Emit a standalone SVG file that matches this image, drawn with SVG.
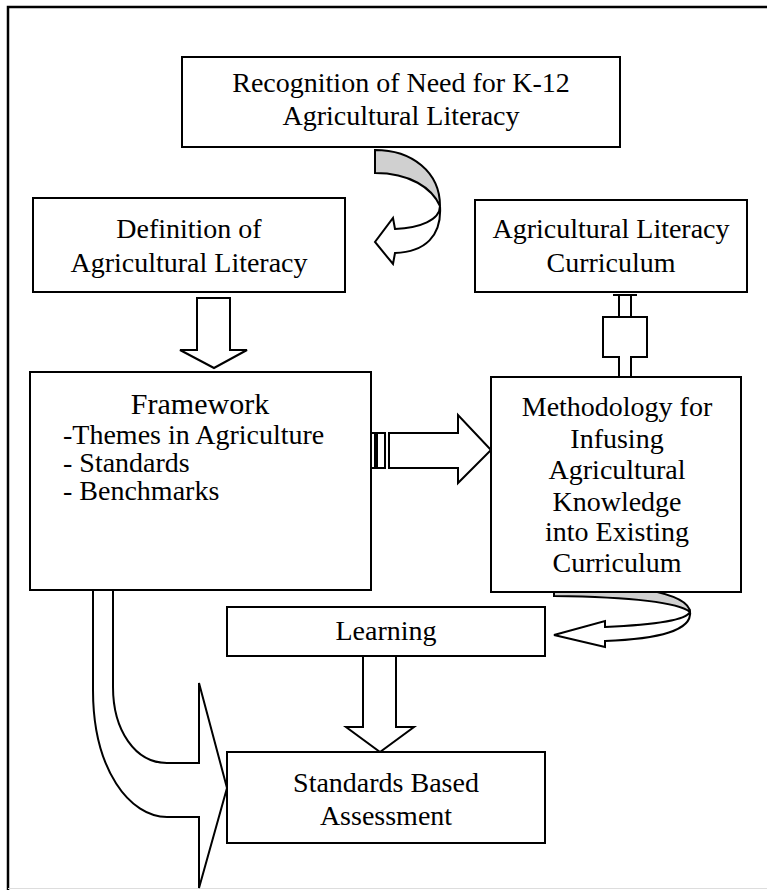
<svg xmlns="http://www.w3.org/2000/svg" width="767" height="890" viewBox="0 0 767 890">
<style>
.box{fill:#fff;stroke:#000;stroke-width:2}
.t{font-family:"Liberation Serif","Times New Roman",serif;font-size:28px;fill:#000;text-anchor:middle}
.l{text-anchor:start}
.arr{fill:#fff;stroke:#000;stroke-width:2;stroke-linejoin:miter}
.g{fill:#d0d0d0;stroke:#000;stroke-width:2}
</style>
<rect width="767" height="890" fill="#fff"/>
<path d="M8,890 V7 H767" fill="none" stroke="#000" stroke-width="2.5"/>
<line x1="8" y1="888.5" x2="767" y2="888.5" stroke="#ddd" stroke-width="1"/>

<g id="connectors">
  <path class="g" d="M375,150 C412,150 440,172 440,206 C432,188 410,173 375,173 Z"/>
  <path class="arr" d="M440,206 C440,220 420,228 395,229 L393,218 L375,242 L393,264 L395,253 C425,252 442,236 440,206 Z"/>
  <path class="arr" d="M197,298 H230 V350 H247 L214,368 L180,350 H197 Z"/>
  <path class="arr" d="M613,295 H637 M619,295 V317 H647 V357 H631 V377 M619,377 V357 H603 V317 H619 M613,377 H637 M631,295 V317"/>
  <rect class="arr" x="371" y="433" width="4" height="35"/>
  <rect class="arr" x="377" y="433" width="8" height="35"/>
  <path class="arr" d="M389,433 H458 V415 L491,450 L458,483 V468 H389 Z"/>
  <path class="g" d="M554,583 C625,583 688,592 690,612 C678,602 625,597 554,596 Z"/>
  <path class="arr" d="M690,612 C686,621 650,625 605,627 V621 L554,635 L605,647 V641 C660,639 692,630 690,612 Z"/>
  <path class="arr" d="M363,656 H396 V727 H414 L380,752 L346,727 H363 Z"/>
  <path class="arr" d="M93,590 V690 C93,770 130,817 167,817 H199 V888 L227,788 L199,683 V763 H167 C135,763 113,730 113,687 V590 Z"/>
</g>

<g id="n_recognition">
  <rect class="box" x="182" y="57" width="438" height="90"/>
  <text class="t" x="401" y="92">Recognition of Need for  K-12</text>
  <text class="t" x="401" y="125">Agricultural Literacy</text>
</g>
<g id="n_definition">
  <rect class="box" x="33" y="198" width="312" height="94"/>
  <text class="t" x="189" y="238">Definition of</text>
  <text class="t" x="189" y="272">Agricultural Literacy</text>
</g>
<g id="n_curriculum">
  <rect class="box" x="475" y="200" width="272" height="92"/>
  <text class="t" x="611" y="238">Agricultural Literacy</text>
  <text class="t" x="611" y="272">Curriculum</text>
</g>
<g id="n_framework">
  <rect class="box" x="30" y="372" width="341" height="218"/>
  <text class="t" x="200" y="414" style="font-size:30px">Framework</text>
  <text class="t l" x="63" y="444">-Themes in Agriculture</text>
  <text class="t l" x="63" y="472">- Standards</text>
  <text class="t l" x="63" y="500">- Benchmarks</text>
</g>
<g id="n_methodology">
  <rect class="box" x="491" y="377" width="250" height="215"/>
  <text class="t" x="617" y="416">Methodology for</text>
  <text class="t" x="617" y="448">Infusing</text>
  <text class="t" x="617" y="479">Agricultural</text>
  <text class="t" x="617" y="511">Knowledge</text>
  <text class="t" x="617" y="541">into Existing</text>
  <text class="t" x="617" y="572">Curriculum</text>
</g>
<g id="n_learning">
  <rect class="box" x="227" y="607" width="318" height="49"/>
  <text class="t" x="386" y="640">Learning</text>
</g>
<g id="n_assessment">
  <rect class="box" x="227" y="752" width="318" height="91"/>
  <text class="t" x="386" y="792">Standards Based</text>
  <text class="t" x="386" y="825">Assessment</text>
</g>
</svg>
